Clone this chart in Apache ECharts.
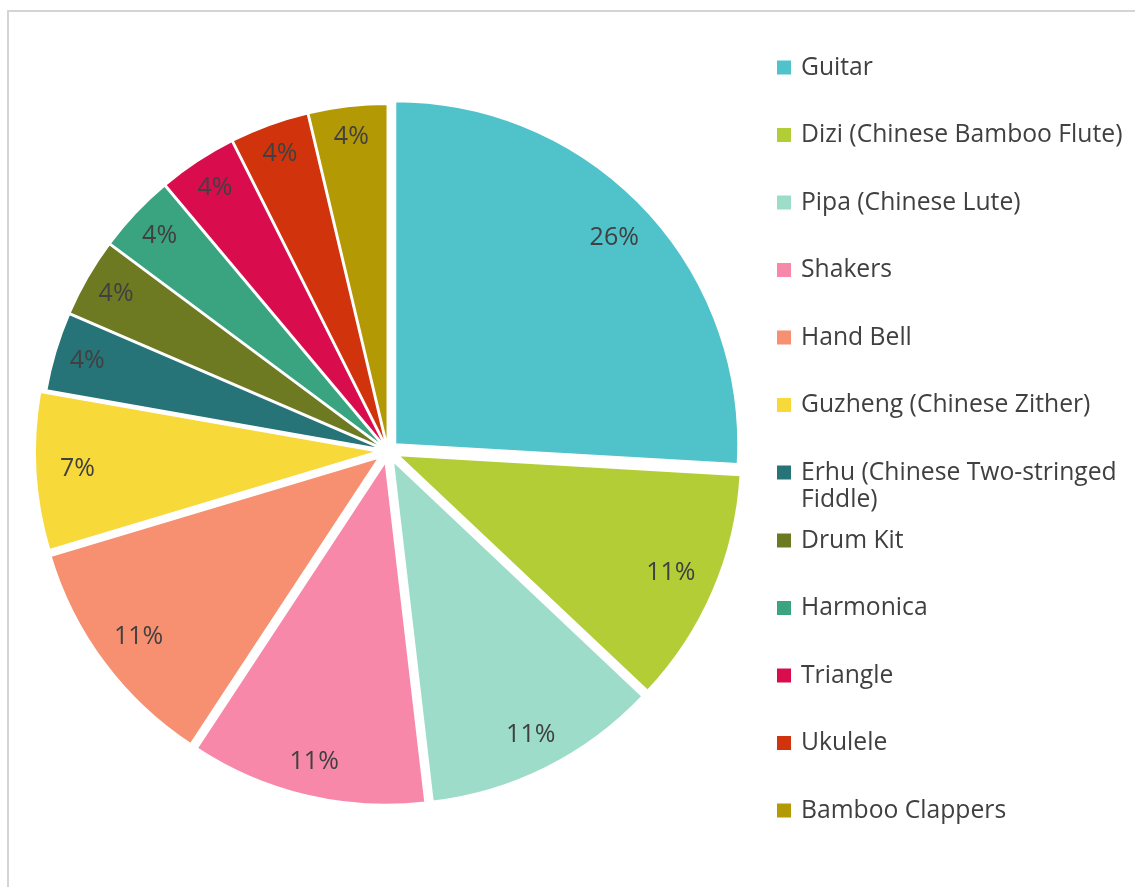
<!DOCTYPE html>
<html><head><meta charset="utf-8">
<script src="https://cdn.jsdelivr.net/npm/echarts@6/dist/echarts.min.js"></script>
<style>html,body{margin:0;padding:0;background:#fff}#c{width:1135px;height:887px}</style>
</head><body><div id="c"></div>
<script>
const categories = ['Guitar','Dizi (Chinese Bamboo Flute)','Pipa (Chinese Lute)','Shakers','Hand Bell','Guzheng (Chinese Zither)','Erhu (Chinese Two-stringed Fiddle)','Drum Kit','Harmonica','Triangle','Ukulele','Bamboo Clappers'];
const counts = [7,3,3,3,3,2,1,1,1,1,1,1];

// styling
const colors = ['#4FC2CA','#B3CD37','#9CDCC8','#F888AA','#F79070','#F7D93A','#267378','#6E7A22','#3AA380','#D90D4E','#D1330C','#B39A05'];
const explode = [10,11,11,11,11,10,4,4,4,4,4,4];
const labelMid = [298,294,304,306,297,298,307,307,307,308,309,309];
const FONT = 'Open Sans';
const CENTER = [388, 451];
const R = 343;
const ERHU = 'Erhu (Chinese Two-stringed Fiddle)';

const series = [];
[...new Set(explode)].forEach(g => {
  series.push({
    type: 'pie', silent: true, center: CENTER, radius: [0, R], startAngle: 90, clockwise: true,
    selectedMode: 'multiple', selectedOffset: g, animation: false,
    label: {show: false}, labelLine: {show: false},
    emphasis: {disabled: true}, select: {itemStyle: {}},
    data: categories.map((n, i) => {
      const m = explode[i] === g;
      return {name: n, value: counts[i], selected: m && g > 0,
        itemStyle: m ? {color: colors[i], borderColor: '#fff', borderWidth: 2} : {color: 'rgba(0,0,0,0)', borderWidth: 0}};
    })
  });
});
// one transparent ring per slice, carrying that slice's percentage label
categories.forEach((_, k) => {
  const mid = labelMid[k], half = R - mid;
  series.push({
    type: 'pie', silent: true, center: CENTER, radius: [mid - half, R], startAngle: 90, clockwise: true,
    selectedMode: 'single', selectedOffset: explode[k], animation: false,
    labelLine: {show: false}, emphasis: {disabled: true}, select: {itemStyle: {}},
    label: {position: 'inside', fontFamily: FONT, fontSize: 25, color: '#404040',
      formatter: p => Math.round(p.percent) + '%'},
    data: categories.map((n, i) => ({name: n, value: counts[i], selected: i === k,
      itemStyle: {color: 'rgba(0,0,0,0)', borderWidth: 0}, label: {show: i === k}}))
  });
});

function legendBlock(names, top) {
  return {
    orient: 'vertical', left: 772, top: top, itemWidth: 14, itemHeight: 14, itemGap: 40.5,
    icon: 'rect', selectedMode: false,
    data: names.map(n => ({name: n, itemStyle: {color: colors[categories.indexOf(n)], borderWidth: 0}})),
    // Erhu wraps onto a second line; a leading blank line keeps its icon level with the first line
    formatter: n => n === ERHU ? '\nErhu (Chinese Two-stringed\nFiddle)' : n,
    textStyle: {fontFamily: FONT, fontSize: 24.7, color: '#404040', lineHeight: 27, padding: [0, 0, 0, 5]}
  };
}
const iE = categories.indexOf(ERHU);

const chart = echarts.init(document.getElementById('c'), null, {renderer: 'canvas'});
chart.setOption({
  backgroundColor: '#fff',
  graphic: [{type: 'rect', shape: {x: 8, y: 11, width: 1300, height: 1000},
    style: {fill: 'none', stroke: '#d4d4d4', lineWidth: 2}, silent: true, z: -1}],
  legend: [
    legendBlock(categories.slice(0, iE), 49),
    legendBlock([ERHU], 427),
    legendBlock(categories.slice(iE + 1), 522)
  ],
  series: series
});
</script></body></html>
